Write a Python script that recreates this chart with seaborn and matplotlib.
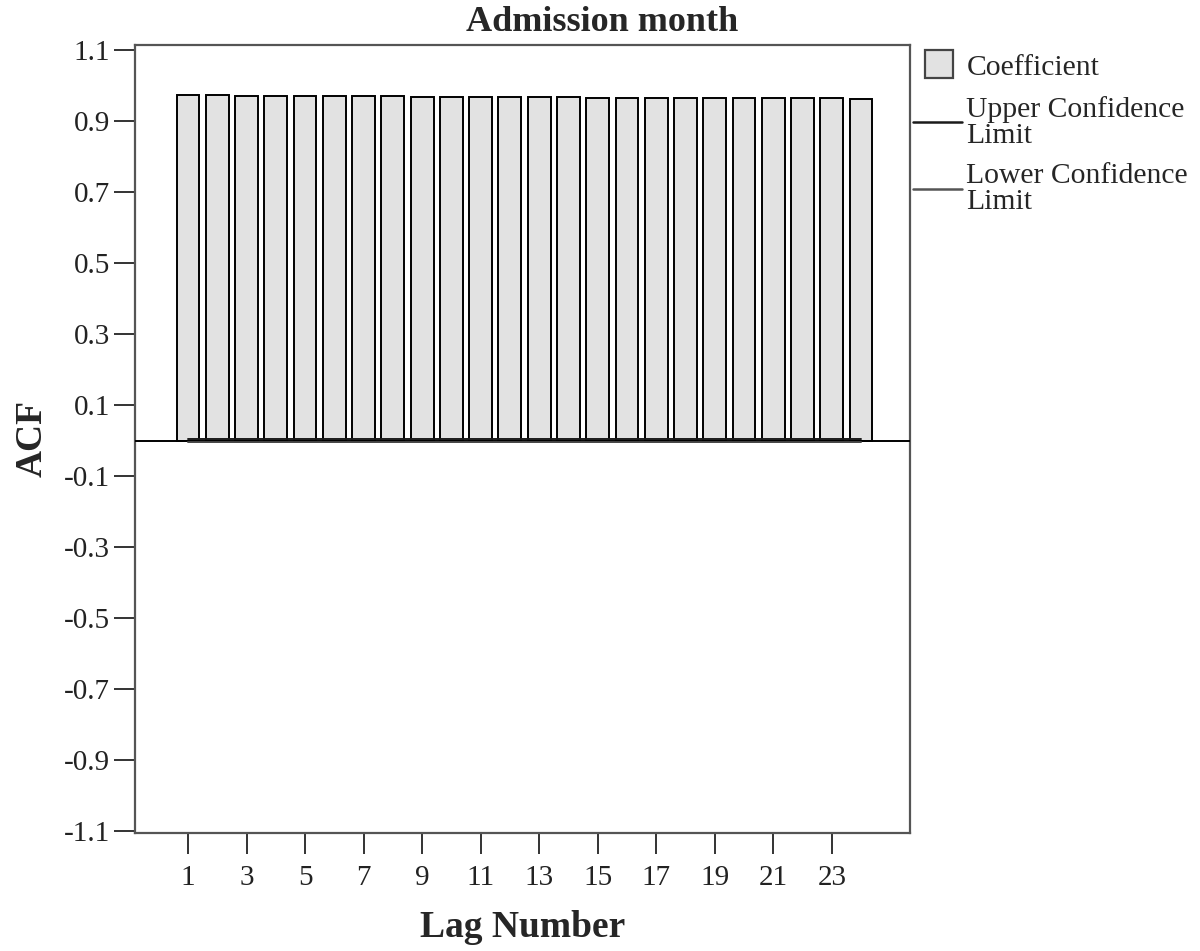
import numpy as np
import pandas as pd
import matplotlib
matplotlib.use("Agg")
import matplotlib.pyplot as plt
import seaborn as sns
from matplotlib.lines import Line2D
from matplotlib.patches import Patch, Rectangle
from matplotlib.legend_handler import HandlerPatch

# ---- data ----
lags = list(range(1, 25))
acf = [0.973, 0.973, 0.972, 0.972, 0.971, 0.971, 0.970, 0.970,
       0.969, 0.969, 0.969, 0.968, 0.968, 0.968, 0.967, 0.967,
       0.967, 0.966, 0.966, 0.966, 0.965, 0.965, 0.965, 0.964]
upper_cl = [0.004] * 24
lower_cl = [-0.004] * 24
xtick_vals = list(range(1, 24, 2))
ytick_vals = [1.1, 0.9, 0.7, 0.5, 0.3, 0.1, -0.1, -0.3, -0.5, -0.7, -0.9, -1.1]

sns.set_style("ticks")
plt.rcParams['font.family'] = ['Liberation Serif', 'DejaVu Serif']

fig = plt.figure(figsize=(12, 9.51), dpi=100)
ax = fig.add_axes([0.1125, 0.1241, 0.6458, 0.8286])

df = pd.DataFrame({"Lag": lags, "ACF": acf})
sns.barplot(data=df, x="Lag", y="ACF", native_scale=True, width=0.78,
            color="#e2e2e2", edgecolor="black", linewidth=1.4, ax=ax,
            saturation=1)

ax.axhline(0, color="black", lw=1.4, zorder=3)
sns.lineplot(x=lags, y=upper_cl, color="#1a1a1a", lw=1.4, ax=ax, zorder=4)
sns.lineplot(x=lags, y=lower_cl, color="#444444", lw=1.4, ax=ax, zorder=4)

ax.set_xlim(-0.81, 25.67)
ax.set_ylim(-1.105, 1.115)
ax.set_xticks(xtick_vals)
ax.set_xticklabels([str(v) for v in xtick_vals])
ax.set_yticks(ytick_vals)
ax.set_yticklabels([f"{v:.1f}" for v in ytick_vals])

for s in ax.spines.values():
    s.set_visible(True)
    s.set_color("#555555")
    s.set_linewidth(1.6)
ax.tick_params(axis="both", length=15, width=1.4, color="#333333",
               labelsize=21, labelcolor="#222222")
ax.tick_params(axis="x", pad=8)
ax.tick_params(axis="y", pad=3)

ax.set_xlabel("Lag Number", fontsize=27, fontweight="bold", labelpad=14)
ax.set_ylabel("ACF", fontsize=27, fontweight="bold", labelpad=10)
fig.text(0.502, 0.976, "Admission month", ha="center", va="center",
         fontsize=26, fontweight="bold")


class SquareHandler(HandlerPatch):
    def create_artists(self, legend, orig_handle, xdescent, ydescent,
                       width, height, fontsize, trans):
        side = 0.95 * fontsize
        x0 = -xdescent + (width - side) / 2 + 1
        y0 = -ydescent + (height - side) / 2
        r = Rectangle((x0, y0), side, side, facecolor="#e2e2e2",
                      edgecolor="#444444", linewidth=1.6, transform=trans)
        return [r]


coef_patch = Patch(facecolor="#e2e2e2", edgecolor="#444444")
handles = [coef_patch,
           Line2D([], [], color="#1a1a1a", lw=1.8),
           Line2D([], [], color="#555555", lw=1.8)]
labels = ["Coefficient", "Upper Confidence\nLimit", "Lower Confidence\nLimit"]
leg = ax.legend(handles, labels, loc="upper left", bbox_to_anchor=(0.9965, 0.996),
                frameon=False, fontsize=21.3, handlelength=1.65,
                handletextpad=0.15, borderaxespad=0.0, borderpad=0.2,
                labelspacing=0.5, handler_map={Patch: SquareHandler()})
for t in leg.get_texts():
    t.set_linespacing(1.0)

fig.savefig("out.png", dpi=100)
